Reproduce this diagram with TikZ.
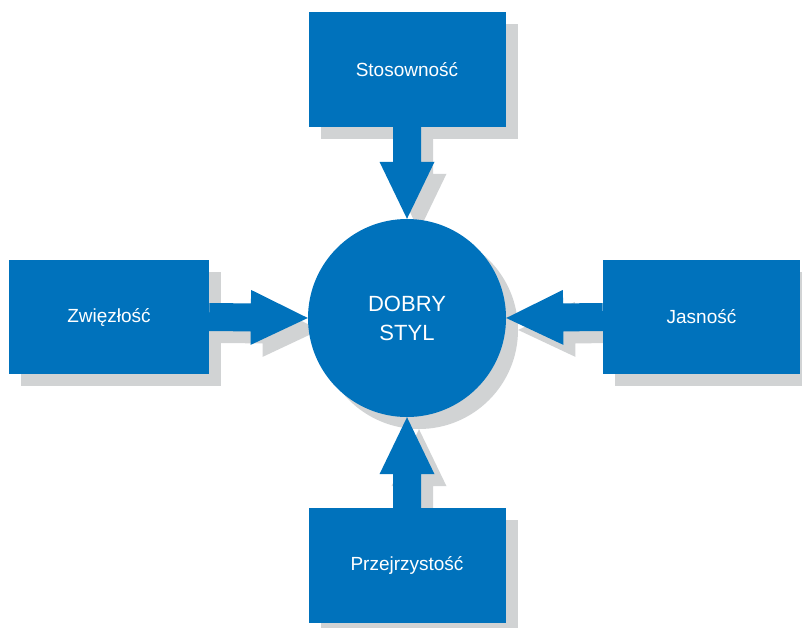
\documentclass[tikz,border=0pt]{standalone}
\usepackage{fontspec}
\setmainfont{Liberation Sans}
\usetikzlibrary{calc,shadows,backgrounds}

\definecolor{styleblue}{RGB}{0,114,188}
\definecolor{shadegray}{RGB}{209,211,212}

\newcommand{\fatarrow}[3]{%
  \coordinate (h) at ($(#2)!57pt!(#1)$);
  \fill[#3] ($(#1)!14pt!90:(#2)$) -- ($(h)!14pt!90:(#2)$) -- ($(h)!27.5pt!90:(#2)$) -- (#2)
    -- ($(h)!27.5pt!-90:(#2)$) -- ($(h)!14pt!-90:(#2)$) -- ($(#1)!14pt!-90:(#2)$) -- cycle;}

\begin{document}
\begin{tikzpicture}[x=1pt,y=-1pt,
    shade/.style={drop shadow={shadow xshift=12pt,shadow yshift=-12pt,fill=shadegray,opacity=1}},
    box/.style={shade,fill=styleblue,text=white,inner sep=0pt,minimum width=197pt,minimum height=115pt,
      font=\fontsize{19}{22}\selectfont},
    hub/.style={shade,circle,fill=styleblue,text=white,inner sep=0pt,minimum size=198pt,align=center,
      font=\fontsize{22}{29}\selectfont}]
                \useasboundingbox (0,0) rectangle (802,627);
                \node[box] (stosownosc) at (407,69.5) {Stosowność};
                \node[box,minimum width=200pt,minimum height=114pt] (zwiezlosc) at (109,317) {Zwięzłość};
                \node[box,minimum height=114pt] (jasnosc) at (701.5,317) {Jasność};
                \node[box] (przejrzystosc) at (407,565.5) {Przejrzystość};
                \node[hub] (dobry) at (407,318) {DOBRY\\STYL};
                \begin{scope}[on background layer]
                \foreach \a/\b in {stosownosc.south/dobry.north,zwiezlosc.east/dobry.west,
                    jasnosc.west/dobry.east,przejrzystosc.north/dobry.south}{
                    \coordinate (s) at ($(\a)+(12,12)$);
                    \coordinate (t) at ($(\b)+(12,12)$);
                    \fatarrow{s}{t}{shadegray}}
                \end{scope}
                \foreach \a/\b in {stosownosc.south/dobry.north,zwiezlosc.east/dobry.west,
                    jasnosc.west/dobry.east,przejrzystosc.north/dobry.south}
                    \fatarrow{\a}{\b}{styleblue};
            \end{tikzpicture}
\end{document}
